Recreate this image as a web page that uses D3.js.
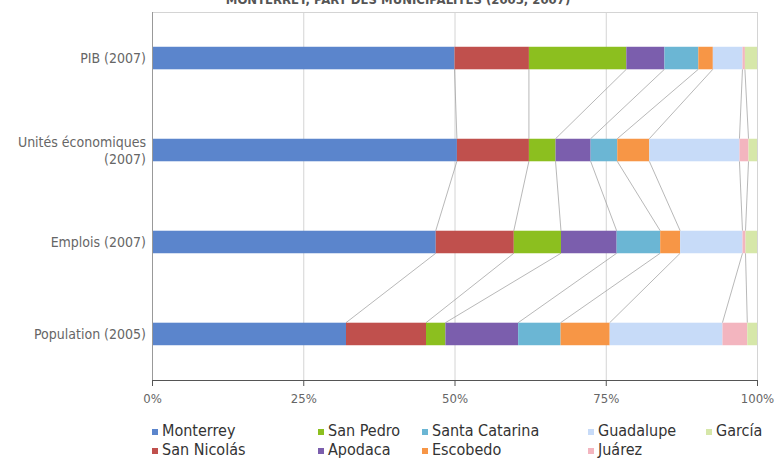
<!DOCTYPE html>
<html>
<head>
<meta charset="utf-8">
<script src="https://cdn.jsdelivr.net/npm/d3@7"></script>
<style>
  body { margin: 0; background: #fff; }
  text { font-family: "Liberation Sans Narrow", "DejaVu Sans Condensed", Arial, sans-serif; }
</style>
</head>
<body>
<div id="chart"></div>
<script>
// chart data
var categories = ["PIB (2007)", "Unités économiques (2007)", "Emplois (2007)", "Population (2005)"];
var seriesNames = ["Monterrey", "San Nicolás", "San Pedro", "Apodaca", "Santa Catarina", "Escobedo", "Guadalupe", "Juárez", "García"];
var seriesColors = ["#5b85cc", "#c0504d", "#8cbf1f", "#7b5ead", "#6bb6d4", "#f79646", "#c7dbf8", "#f3b5bf", "#d6e7a9"];
// percent share per category, same order as seriesNames
var pib = [50.0, 12.3, 16.1, 6.3, 5.6, 2.4, 4.9, 0.4, 2.0];
var unites = [50.4, 11.9, 4.4, 5.8, 4.4, 5.3, 14.9, 1.5, 1.4];
var emplois = [46.9, 12.9, 7.8, 9.2, 7.2, 3.3, 10.3, 0.5, 1.9];
var population = [32.0, 13.2, 3.2, 12.0, 7.0, 8.1, 18.6, 4.1, 1.6];
var tickValues = [0, 25, 50, 75, 100];

var svgWidth = 776;
var svgHeight = 460;

var margin = { top: 12, right: 19, bottom: 80, left: 152 };
var width = svgWidth - margin.left - margin.right;
var height = svgHeight - margin.top - margin.bottom;

var svg = d3.select("#chart")
  .append("svg")
  .attr("width", svgWidth)
  .attr("height", svgHeight);

// title, mostly cut off by the top edge (as in the source image)
svg.append("text")
  .attr("x", 398)
  .attr("y", 4)
  .attr("text-anchor", "middle")
  .attr("font-size", "13px")
  .attr("font-weight", "bold")
  .attr("fill", "#555")
  .text("MONTERREY, PART DES MUNICIPALITÉS (2005, 2007)");

var chartGroup = svg.append("g")
  .attr("transform", `translate(${margin.left}, ${margin.top})`);

var rows = [pib, unites, emplois, population].map(function(vals, i) {
  var total = d3.sum(vals);
  var acc = 0;
  var segs = vals.map(function(v, j) {
    var s = { series: j, x0: acc / total * 100, x1: (acc + v) / total * 100 };
    acc += v;
    return s;
  });
  return { cat: categories[i], segs: segs };
});

var xScale = d3.scaleLinear().domain([0, 100]).range([0, width]);
var yScale = d3.scaleBand()
  .domain(categories)
  .range([0, height])
  .paddingInner(0.755)
  .paddingOuter(0.378);

// plot frame + gridlines
chartGroup.append("line")
  .attr("x1", 0).attr("x2", width)
  .attr("y1", 0.5).attr("y2", 0.5)
  .attr("stroke", "#d4d4d4");

chartGroup.selectAll(".grid")
  .data(tickValues.slice(1))
  .enter()
  .append("line")
  .attr("class", "grid")
  .attr("x1", d => xScale(d) + 0.5)
  .attr("x2", d => xScale(d) + 0.5)
  .attr("y1", 0)
  .attr("y2", height)
  .attr("stroke", "#d4d4d4");

// series lines between bars
var connectors = [];
for (var i = 0; i < rows.length - 1; i++) {
  rows[i].segs.slice(0, -1).forEach(function(s, j) {
    connectors.push({
      xa: s.x1, ya: yScale(rows[i].cat) + yScale.bandwidth(),
      xb: rows[i + 1].segs[j].x1, yb: yScale(rows[i + 1].cat)
    });
  });
}
chartGroup.selectAll(".connector")
  .data(connectors)
  .enter()
  .append("line")
  .attr("class", "connector")
  .attr("x1", d => xScale(d.xa))
  .attr("y1", d => d.ya)
  .attr("x2", d => xScale(d.xb))
  .attr("y2", d => d.yb)
  .attr("stroke", "#999")
  .attr("stroke-width", 0.7);

// stacked bars
var barGroups = chartGroup.selectAll(".bar")
  .data(rows)
  .enter()
  .append("g")
  .attr("class", "bar")
  .attr("transform", d => `translate(0, ${yScale(d.cat)})`);

barGroups.selectAll("rect")
  .data(d => d.segs)
  .enter()
  .append("rect")
  .attr("x", d => xScale(d.x0))
  .attr("width", d => xScale(d.x1) - xScale(d.x0))
  .attr("height", yScale.bandwidth())
  .attr("fill", d => seriesColors[d.series]);

// x axis
var bottomAxis = d3.axisBottom(xScale)
  .tickValues(tickValues)
  .tickSize(6)
  .tickFormat(d => d + "%");

var xAxis = chartGroup.append("g")
  .attr("transform", `translate(0, ${height})`)
  .call(bottomAxis);
xAxis.select(".domain").attr("stroke", "#555");
xAxis.selectAll(".tick line").attr("stroke", "#555");
xAxis.selectAll(".tick text")
  .attr("font-size", "13px")
  .attr("fill", "#666")
  .attr("dy", "1.1em");

// y axis line
chartGroup.append("line")
  .attr("x1", 0.5).attr("x2", 0.5)
  .attr("y1", 0).attr("y2", height)
  .attr("stroke", "#999");

// category labels
var catLines = {
  "PIB (2007)": ["PIB (2007)"],
  "Unités économiques (2007)": ["Unités économiques", "(2007)"],
  "Emplois (2007)": ["Emplois (2007)"],
  "Population (2005)": ["Population (2005)"]
};
categories.forEach(function(c) {
  var lines = catLines[c];
  var cy = yScale(c) + yScale.bandwidth() / 2;
  var t = chartGroup.append("text")
    .attr("text-anchor", "end")
    .attr("font-size", "14px")
    .attr("fill", "#666");
  lines.forEach(function(l, k) {
    t.append("tspan")
      .attr("x", -6)
      .attr("y", cy + 5 + (k - (lines.length - 1) / 2) * 17)
      .text(l);
  });
});

// legend (2 rows, filled column by column)
var legendX = [152, 318, 422, 588, 706];
var legendY = [436, 455];
var legend = svg.selectAll(".legend")
  .data(seriesNames)
  .enter()
  .append("g")
  .attr("class", "legend")
  .attr("transform", (d, i) => `translate(${legendX[Math.floor(i / 2)]}, ${legendY[i % 2]})`);

legend.append("rect")
  .attr("x", 0)
  .attr("y", -7)
  .attr("width", 6)
  .attr("height", 6)
  .attr("fill", (d, i) => seriesColors[i]);

legend.append("text")
  .attr("x", 10)
  .attr("y", 0)
  .attr("font-size", "16px")
  .attr("fill", "#333")
  .text(d => d);
</script>
</body>
</html>
